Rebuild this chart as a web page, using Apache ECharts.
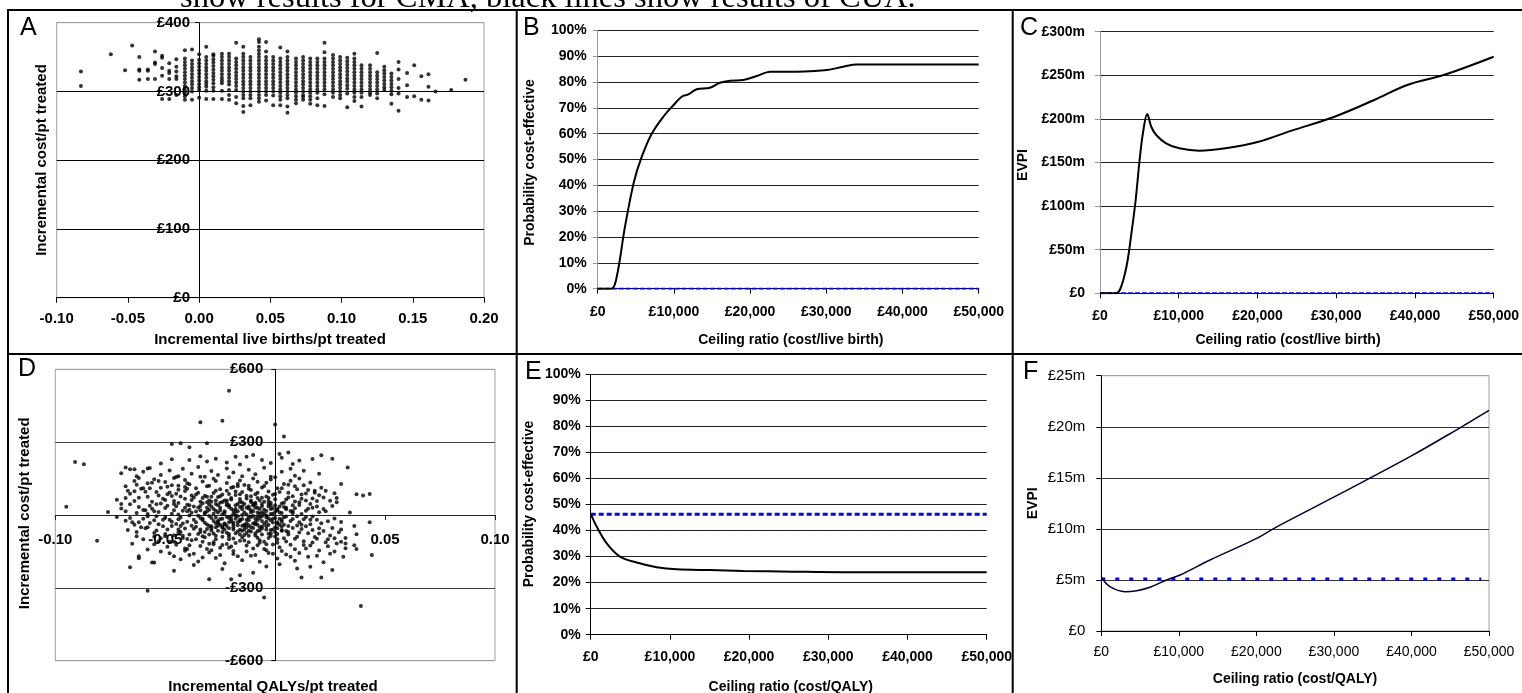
<!DOCTYPE html>
<html>
<head>
<meta charset="utf-8">
<script src="https://cdn.jsdelivr.net/npm/echarts@6/dist/echarts.min.js"></script>
<style>
html, body { margin: 0; padding: 0; background: #fff; }
#chart { width: 1522px; height: 693px; }
</style>
</head>
<body>
<div id="chart"></div>
<script>
// ---- data ----
// A: cost-effectiveness plane (live births), columns of points at discrete x
const aColX = [-0.083,-0.062,-0.052,-0.047,-0.042,-0.036,-0.031,-0.026,-0.021,-0.016,-0.010,-0.005,0.000,
  0.005,0.010,0.016,0.021,0.026,0.031,0.036,0.042,0.047,0.052,0.057,0.062,0.068,0.073,0.078,0.083,0.088,
  0.094,0.099,0.104,0.109,0.114,0.120,0.125,0.130,0.135,0.140,0.146,0.151,0.156,0.161,0.166,0.177,0.187];
const aColCost = [
  [329,308],[354],[331],[367],[350,332,330,317],[332,330,318],[358,342,340,318],[352,349,334,323,289],
  [341,330,327,318,289],[347,336,329,322,318,295],
  [360,348,343,338,333,328,323,318,313,308,303,298,293,288],
  [361,345,340,335,330,325,320,315,310,305,300,288],
  [354,346,341,336,331,326,321,316,311,306,302,291],
  [365,350,345,340,335,330,325,320,315,311,307,301,289],
  [354,352,347,342,337,332,327,322,317,312,306,301,289],
  [355,350,345,340,335,330,325,320,316,312,301,289],
  [355,350,345,340,335,330,325,320,315,310,302,295,288],
  [371,348,343,338,333,328,323,318,313,308,302,292,283],
  [365,355,350,345,340,335,330,325,320,315,310,305,300,295,290,279,270],
  [350,345,340,335,330,325,320,315,310,305,300,295,290,280],
  [376,372,365,360,355,350,345,340,335,330,325,320,315,310,305,300,295,290,285],
  [372,358,350,345,340,335,330,325,320,315,310,305,300,295,287],
  [350,345,340,335,330,325,320,315,310,305,300,294,280],
  [364,348,343,338,333,328,323,318,313,308,303,298,293,288,280],
  [358,350,345,340,335,330,325,320,315,310,305,300,295,290,278,269],
  [348,343,338,333,328,323,318,313,308,303,298,293,288,283],
  [350,345,340,335,330,325,320,315,310,305,300,295,292,288],
  [348,343,338,333,328,323,318,313,308,303,298,293,288,282],
  [348,343,338,333,328,323,318,313,308,303,298,290,280],
  [371,357,348,343,338,333,328,323,318,313,308,303,296,279],
  [353,348,343,338,333,328,323,318,313,308,303,298,292],
  [350,345,340,335,330,325,320,315,310,305,300,295,290],
  [349,344,339,334,329,324,319,314,309,304,297,277],
  [355,348,343,338,333,328,323,318,313,308,303,298,292,286],
  [338,333,328,323,318,313,308,303,298,292,278],
  [338,333,328,323,318,313,308,303,298,295],
  [356,328,323,318,313,308,303,297,290],
  [336,331,326,321,316,311,306,302],
  [326,321,316,311,306,301,296,282],
  [343,332,318,305,297,272],
  [327,309,292],[338,293],[322,288],[325,307,287],[300],[302],[317]
];

// D: cost-effectiveness plane (QALYs), [QALY x1000, cost £]
const dPoints = [
  [-70,172],[-66,188],[-63,160],[-60,178],[-57,194],[-52,165],[-48,183],[-45,156],[-42,190],[-38,170],[-35,198],[-32,158],[-29,181],[-26,165],[-22,192],[-19,175],[-15,160],[-12,186],[-9,168],[-5,195],[-2,158],[3,178],[7,190],[9,162],[13,182],[20,170],[33,196],
  [-68,118],[-64,140],[-61,108],[-58,131],[-55,147],[-52,112],[-50,136],[-47,122],[-44,104],[-41,144],[-39,127],[-36,110],[-33,138],[-30,120],[-28,149],[-25,106],[-22,132],[-19,115],[-16,142],[-14,124],[-11,103],[-8,137],[-5,119],[-2,146],[1,110],[4,128],[7,141],[10,106],[13,123],[16,134],[21,112],[30,128],
  [-72,63],[-66,88],[-62,71],[-59,96],[-56,55],[-53,80],[-51,67],[-48,93],[-46,58],[-43,76],[-41,99],[-38,62],[-36,84],[-33,70],[-31,52],[-28,91],[-26,74],[-23,60],[-21,86],[-18,97],[-16,66],[-13,79],[-11,54],[-8,92],[-6,71],[-3,58],[-1,83],[2,95],[5,64],[8,77],[11,53],[14,89],[17,68],[20,81],[25,59],[37,85],[40,80],[43,86],
  [-95,34],[-76,12],[-70,27],[-66,44],[-63,8],[-60,21],[-57,38],[-55,15],[-52,47],[-50,29],[-47,5],[-45,36],[-42,18],[-40,42],[-38,9],[-35,31],[-33,48],[-31,14],[-28,25],[-26,40],[-24,3],[-21,33],[-19,19],[-17,45],[-14,10],[-12,27],[-10,39],[-7,6],[-5,22],[-3,46],[0,13],[2,35],[5,24],[8,7],[11,41],[14,18],[17,30],[20,11],[26,37],
  [-72,-8],[-68,-24],[-64,-40],[-60,-15],[-57,-33],[-54,-5],[-51,-46],[-48,-20],[-45,-37],[-43,-10],[-40,-28],[-38,-44],[-35,-3],[-33,-22],[-31,-39],[-29,-12],[-26,-30],[-24,-48],[-22,-7],[-20,-26],[-17,-42],[-15,-16],[-13,-35],[-10,-4],[-8,-21],[-6,-47],[-3,-13],[-1,-31],[2,-40],[4,-9],[7,-25],[10,-43],[13,-18],[17,-6],[21,-34],[27,-14],[30,-29],[43,-30],
  [-81,-106],[-67,-62],[-63,-88],[-59,-55],[-55,-74],[-52,-96],[-49,-60],[-46,-83],[-43,-70],[-40,-99],[-37,-57],[-35,-78],[-32,-92],[-29,-64],[-27,-85],[-24,-52],[-22,-73],[-19,-97],[-16,-61],[-14,-82],[-11,-68],[-8,-94],[-6,-56],[-3,-77],[0,-89],[3,-63],[6,-80],[9,-98],[12,-58],[15,-75],[18,-91],[22,-66],[25,-84],[29,-71],[32,-95],[37,-79],
  [-65,-118],[-58,-142],[-53,-108],[-49,-131],[-45,-122],[-41,-147],[-38,-104],[-34,-128],[-31,-140],[-28,-112],[-25,-135],[-22,-119],[-19,-148],[-16,-106],[-13,-126],[-10,-138],[-7,-114],[-4,-145],[-1,-121],[2,-133],[5,-109],[9,-141],[13,-124],[17,-113],[20,-146],[24,-129],[28,-117],[32,-137],[36,-125],
  [-62,-170],[-55,-196],[-48,-158],[-43,-182],[-39,-165],[-35,-192],[-30,-154],[-27,-177],[-23,-199],[-19,-161],[-15,-186],[-11,-168],[-7,-193],[-3,-157],[1,-179],[5,-163],[9,-188],[15,-172],[22,-195],[25,-160],[44,-165],
  [-66,-215],[-46,-230],[-37,-206],[-30,-265],[-24,-222],[-16,-248],[-10,-238],[-4,-212],[2,-203],[10,-220],[16,-213],[21,-257],[26,-227],[12,-257],[-20,-265],
  [-34,-60],[-30,-45],[-27,-10],[-25,20],[-23,-35],[-21,-55],[-19,5],[-18,-75],[-16,-25],[-15,35],[-13,-50],[-12,-85],[-10,15],[-9,-38],[-7,-65],[-6,45],[-4,-28],[-3,-95],[-1,5],[1,-55],[3,-20],[-29,55],[-32,10],[-26,-65],[-20,70],[-17,-5],[-11,60],[-5,-110],[-2,25],[0,-70],[-36,-30],[-40,15],[-44,-60],[-24,-90],[-14,-105],[-8,30],[6,-45],[8,15],[-28,-120],[-20,-130],[-12,120],[-22,100],[-30,-80],[-18,40],[-9,-15],[-6,-5],[4,50],[-37,35],[-42,-85],[-33,-110],[-16,85],[-12,-8],[-27,45],[-21,-100],[-3,70],[1,-100],[-8,-125],[-14,-60],[-25,-40],[-31,75],
  [-52,212],[-47,230],[-39,226],[-34,242],[-31,220],[-27,232],[-22,216],[-18,240],[-16,208],[-13,240],[-10,247],[-6,226],[-2,214],[3,236],[8,210],[11,224],[17,231],[21,246],[26,232],
  [-68,196],[-64,188],[-58,192],[-47,292],[-43,295],[-31,295],[-39,279],[6,257],[2,251],[-21,512],[-34,382],[-24,388],[0,373],[4,323],
  [-91,218],[-87,209],[-58,-312],[-5,-340],[39,-375],[-62,-178],[-56,-196],[37,-140],[32,-117],
  [-46,152],[-40,131],[-34,158],[-27,140],[-21,155],[-17,128],[-10,150],[-4,133],[0,155],[6,125],[11,150],[-56,133],[-62,152],
  [-60,110],[-54,95],[-49,116],[-45,88],[-40,108],[-35,92],[-31,118],[-27,100],[-24,84],[-20,112],[-15,95],[-12,108],[-9,85],[-6,113],[-3,97],[0,86],[3,110],[6,92],[9,118],[12,84],[15,103],[18,92],[23,100],[27,90],[-64,98],[-44,120],[-29,75],[-17,118],
  [-64,58],[-58,75],[-54,44],[-50,62],[-47,78],[-44,49],[-41,67],[-39,40],[-37,72],[-34,55],[-32,79],[-30,43],[-27,60],[-25,77],[-22,48],[-20,64],[-18,82],[-15,51],[-13,68],[-11,77],[-9,44],[-7,60],[-4,76],[-2,50],[0,65],[3,47],[6,72],[9,56],[12,67],[16,45],[19,58],[22,72],[28,52],[-68,70],[-24,54],[-8,70],
  [-68,15],[-62,33],[-58,4],[-56,26],[-53,12],[-49,38],[-46,20],[-44,2],[-41,30],[-39,22],[-36,14],[-34,37],[-32,4],[-29,35],[-27,17],[-25,30],[-23,8],[-22,40],[-20,26],[-18,12],[-16,33],[-13,2],[-11,20],[-9,30],[-8,10],[-6,36],[-4,16],[-2,4],[-1,28],[1,20],[3,8],[4,33],[7,16],[9,28],[12,4],[15,26],[19,35],[23,15],[-15,24],[-30,22],
  [-66,-12],[-62,-30],[-58,-5],[-55,-22],[-53,-38],[-50,-10],[-47,-28],[-44,-18],[-42,-35],[-39,-2],[-37,-20],[-34,-12],[-32,-32],[-30,-4],[-28,-25],[-25,-16],[-23,-38],[-21,-12],[-19,-32],[-18,-2],[-16,-20],[-14,-40],[-12,-22],[-11,-8],[-9,-30],[-7,-12],[-5,-36],[-4,-2],[-2,-22],[0,-12],[1,-36],[3,-28],[5,-6],[8,-16],[11,-30],[14,-8],[16,-38],[19,-20],[24,-26],[-27,-34],[-20,-18],
  [-63,-70],[-58,-50],[-54,-64],[-50,-78],[-47,-45],[-44,-72],[-41,-56],[-39,-80],[-36,-48],[-34,-70],[-31,-58],[-28,-76],[-26,-44],[-23,-60],[-21,-78],[-19,-50],[-17,-68],[-15,-44],[-13,-74],[-10,-54],[-8,-66],[-6,-80],[-4,-46],[-2,-62],[1,-78],[3,-48],[5,-66],[8,-54],[11,-72],[14,-46],[17,-62],[20,-76],[26,-54],[-29,-46],[-12,-42],
  [-60,-100],[-55,-120],[-50,-88],[-46,-110],[-42,-95],[-39,-125],[-36,-100],[-33,-88],[-30,-118],[-27,-100],[-24,-124],[-21,-88],[-18,-115],[-15,-92],[-12,-112],[-9,-84],[-7,-104],[-4,-120],[-2,-86],[1,-114],[4,-96],[7,-122],[10,-90],[13,-108],[16,-126],[19,-98],[23,-112],[27,-96],[30,-110],
  [-52,-150],[-46,-170],[-41,-138],[-37,-160],[-33,-175],[-29,-145],[-25,-165],[-21,-135],[-17,-170],[-13,-150],[-9,-165],[-5,-140],[-1,-160],[3,-148],[7,-172],[11,-156],[14,-138],[19,-168],[27,-150],[31,-172],
  [-33,-15],[-31,30],[-29,-55],[-28,5],[-26,-25],[-25,50],[-24,-70],[-23,15],[-22,-45],[-21,40],[-20,-5],[-19,-60],[-18,25],[-17,-30],[-16,55],[-16,-80],[-15,0],[-14,-45],[-13,30],[-12,-65],[-11,10],[-10,-35],[-10,45],[-9,-75],[-8,-5],[-7,25],[-7,-50],[-6,-25],[-5,55],[-5,5],[-4,-60],[-3,-40],[-3,35],[-2,-75],[-1,-15],[0,40],[0,-50],[1,-30],[2,10],[3,-65],[4,-40],[5,30],
  [-34,20],[-32,-70],[-30,60],[-27,-50],[-26,10],[-24,-15],[-22,60],[-21,-30],[-19,-40],[-18,-15],[-17,15],[-15,-65],[-14,45],[-13,-20],[-12,35],[-11,-50],[-9,50],[-8,-40],[-6,10],[-4,-10],[-2,40],[-1,-60],[1,25],[2,-15],
  [-70,45],[-67,100],[-65,-30],[-63,125],[-61,-50],[-59,20],[-57,110],[-55,-90],[-53,140],[-51,-20],[-49,85],[-48,-110],[-46,45],[-44,160],[-43,-45],[-41,115],[-40,-140],[-38,80],
  [6,-70],[8,40],[10,-5],[12,-40],[14,60],[16,-20],[18,100],[20,-55],[22,25],[24,-100],[28,70],[30,-60],[34,10],[36,-45]
];

// B: probability cost-effective vs ceiling ratio (cost/live birth)
const bCeiling = [0,1800,2500,3580,4760,5770,7090,8620,9930,11020,11900,12990,14740,16050,17360,19110,20870,22610,25670,27860,30050,32230,33990,50000];
const bProb = [0,0,4.6,24,41.4,51,60,66.6,71,74.3,75.2,77.2,77.8,79.7,80.5,80.8,82.3,84,84,84.2,84.6,85.9,86.8,86.8];
const bProbCMA = 0;

// C: EVPI (£m) vs ceiling ratio (cost/live birth)
const cCeiling = [0,1890,2520,3360,3990,4530,5030,5450,6000,6510,7140,8390,10070,12590,15950,20140,24330,29790,34830,39020,43640,50000];
const cEvpi = [0,0,3.8,30.5,68.8,107,152.9,183.5,205.6,191,181.5,172,166.3,163.5,166.3,173.8,186.5,202.5,221.7,238.9,250.3,271.3];
const cEvpiCMA = 0;

// E: probability cost-effective vs ceiling ratio (cost/QALY)
const eCeiling = [0,760,2020,3700,5810,8330,10860,15060,19270,25580,31900,50000];
const eProb = [46.4,41.5,35.1,30,27.7,25.9,25.1,24.8,24.5,24.2,24,24];
const eProbCMA = 46.3;

// F: EVPI (£m) vs ceiling ratio (cost/QALY)
const fCeiling = [0,1120,3060,4570,6280,8430,10150,14020,20040,22620,31210,39810,46260,50000];
const fEvpi = [5.26,4.34,3.85,3.95,4.28,5.0,5.48,6.95,9.07,10.2,13.6,17.07,19.9,21.6];
const fEvpiCMA = 5.1;

// ---- helpers ----
const FONT = 'Liberation Sans, Arial, sans-serif';
function money(v) {
  const s = String(Math.abs(Math.round(v))).replace(/\B(?=(\d{3})+(?!\d))/g, ',');
  return (v < 0 ? '-' : '') + '£' + s;
}
function pairs(xs, ys) { return xs.map((x, i) => [x, ys[i]]); }

const aData = [];
aColX.forEach((x, i) => aColCost[i].forEach(c => aData.push([x, c])));
const dData = dPoints.map(p => [p[0] / 1000, p[1]]);

function lbl(size, bold, margin, fmt) {
  return { fontFamily: FONT, fontSize: size, fontWeight: bold ? 'bold' : 'normal', color: '#000', margin: margin, formatter: fmt };
}
function ceilingAxis(gi, bold, margin) {
  return {
    type: 'value', gridIndex: gi, min: 0, max: 50000, interval: 10000,
    axisLine: { onZero: false, lineStyle: { color: '#000', width: 1 } },
    axisTick: { length: 5, lineStyle: { color: '#000' } },
    axisLabel: lbl(14, bold, margin, money),
    splitLine: { show: false }
  };
}
function probAxis(gi, lineColor, margin) {
  return {
    type: 'value', gridIndex: gi, min: 0, max: 100, interval: 10,
    axisLine: { show: true, onZero: false, lineStyle: { color: lineColor } },
    axisTick: { show: true, length: 5, lineStyle: { color: lineColor } },
    axisLabel: lbl(14, true, margin, v => v + '%'),
    splitLine: { lineStyle: { color: '#222', width: 1 } }
  };
}
function text(x, y, str, size, weight, rot, family) {
  return {
    type: 'text', x: x, y: y, rotation: rot || 0, silent: true,
    style: { text: str, fontFamily: family || FONT, fontSize: size, fontWeight: weight || 'normal', fill: '#000',
      align: 'center', verticalAlign: 'middle', textAlign: 'center', textVerticalAlign: 'middle' }
  };
}
function letter(x, y, str) {
  return {
    type: 'text', x: x, y: y, silent: true,
    style: { text: str, fontFamily: FONT, fontSize: 25, fill: '#000', align: 'left', verticalAlign: 'middle', textAlign: 'left', textVerticalAlign: 'middle' }
  };
}
function rule(x1, y1, x2, y2) {
  return { type: 'line', silent: true, shape: { x1, y1, x2, y2 }, style: { stroke: '#000', lineWidth: 2 } };
}

const chart = echarts.init(document.getElementById('chart'), null, { renderer: 'canvas' });

const option = {
  animation: false,
  backgroundColor: '#fff',
  grid: [
    { left: 56.7, top: 22.7, width: 427.3, height: 275, show: true, borderColor: '#a0a0a0', borderWidth: 1 },
    { left: 597.7, top: 30.3, width: 381, height: 258.4 },
    { left: 1100, top: 31.7, width: 397.3, height: 261.6 },
    { left: 55.3, top: 369.3, width: 439.7, height: 291.4, show: true, borderColor: '#a0a0a0', borderWidth: 1 },
    { left: 590.7, top: 374.3, width: 396, height: 260.4 },
    { left: 1101.3, top: 375.7, width: 387.7, height: 255.3, show: true, borderColor: '#a0a0a0', borderWidth: 1 }
  ],
  xAxis: [
    {
      type: 'value', gridIndex: 0, min: -0.1, max: 0.2, interval: 0.05,
      axisLine: { onZero: false, lineStyle: { color: '#000' } },
      axisTick: { length: 5, lineStyle: { color: '#000' } },
      axisLabel: lbl(15, true, 14, v => (Math.abs(v) < 1e-9 ? 0 : v).toFixed(2)),
      splitLine: { show: false }
    },
    ceilingAxis(1, true, 16),
    ceilingAxis(2, true, 16),
    {
      // axis drawn on the zero cost line
      type: 'value', gridIndex: 3, min: -0.1, max: 0.1, interval: 0.05, offset: -145.7,
      axisLine: { onZero: false, lineStyle: { color: '#222' } },
      axisTick: { length: 5, lineStyle: { color: '#222' } },
      axisLabel: lbl(15, true, 17, v => Math.abs(v) < 1e-9 ? '' : v.toFixed(2)),
      splitLine: { show: false }
    },
    ceilingAxis(4, true, 15),
    ceilingAxis(5, false, 14)
  ],
  yAxis: [
    {
      // axis drawn on the zero live-birth line
      type: 'value', gridIndex: 0, min: 0, max: 400, interval: 100, offset: -142.3,
      axisLine: { onZero: false, lineStyle: { color: '#000' } },
      axisTick: { length: 4, lineStyle: { color: '#000' } },
      axisLabel: lbl(15, true, 9, v => '£' + v),
      splitLine: { lineStyle: { color: ['#000', '#000', '#000', '#000', '#a0a0a0'] } }
    },
    probAxis(1, '#999', 11),
    {
      type: 'value', gridIndex: 2, min: 0, max: 300, interval: 50,
      axisLine: { show: true, onZero: false, lineStyle: { color: '#999' } },
      axisTick: { show: true, length: 5, lineStyle: { color: '#999' } },
      axisLabel: lbl(14, true, 15, v => v === 0 ? '£0' : '£' + v + 'm'),
      splitLine: { lineStyle: { color: '#222' } }
    },
    {
      // axis drawn on the zero QALY line
      type: 'value', gridIndex: 3, min: -600, max: 600, interval: 300, offset: -220,
      axisLine: { onZero: false, lineStyle: { color: '#000' } },
      axisTick: { length: 4, lineStyle: { color: '#000' } },
      axisLabel: lbl(15, true, 12, v => v === 0 ? '' : money(v)),
      splitLine: { lineStyle: { color: ['#a0a0a0', '#444', '#222', '#444', '#a0a0a0'] } }
    },
    probAxis(4, '#000', 10),
    {
      type: 'value', gridIndex: 5, min: 0, max: 25, interval: 5,
      axisLine: { show: true, onZero: false, lineStyle: { color: '#000' } },
      axisTick: { show: true, length: 5, lineStyle: { color: '#000' } },
      axisLabel: lbl(15, false, 16, v => v === 0 ? '£0' : '£' + v + 'm'),
      splitLine: { lineStyle: { color: ['#000', '#333', '#333', '#333', '#333', '#a0a0a0'] } }
    }
  ],
  series: [
    { type: 'scatter', xAxisIndex: 0, yAxisIndex: 0, data: aData, symbol: 'circle', symbolSize: 4, itemStyle: { color: '#000' } },
    { type: 'line', xAxisIndex: 1, yAxisIndex: 1, data: [[0, bProbCMA], [50000, bProbCMA]], showSymbol: false,
      lineStyle: { color: '#0000ff', width: 2, type: [5, 2] } },
    { type: 'line', xAxisIndex: 1, yAxisIndex: 1, data: pairs(bCeiling, bProb), showSymbol: false, smooth: 0.35,
      lineStyle: { color: '#000', width: 2 } },
    { type: 'line', xAxisIndex: 2, yAxisIndex: 2, data: [[0, cEvpiCMA], [50000, cEvpiCMA]], showSymbol: false,
      lineStyle: { color: '#0000ff', width: 2, type: [5, 2] } },
    { type: 'line', xAxisIndex: 2, yAxisIndex: 2, data: pairs(cCeiling, cEvpi), showSymbol: false, smooth: 0.35,
      lineStyle: { color: '#000', width: 2 } },
    { type: 'scatter', xAxisIndex: 3, yAxisIndex: 3, data: dData, symbol: 'circle', symbolSize: 4, itemStyle: { color: '#000' } },
    { type: 'line', xAxisIndex: 4, yAxisIndex: 4, data: [[0, eProbCMA], [50000, eProbCMA]], showSymbol: false,
      lineStyle: { color: '#0000ff', width: 3, type: [5, 3] } },
    { type: 'line', xAxisIndex: 4, yAxisIndex: 4, data: pairs(eCeiling, eProb), showSymbol: false, smooth: 0.35,
      lineStyle: { color: '#000', width: 2 } },
    { type: 'line', xAxisIndex: 5, yAxisIndex: 5, data: [[0, fEvpiCMA], [49000, fEvpiCMA]], showSymbol: false,
      lineStyle: { color: '#0000ff', width: 3, type: [4, 10] } },
    { type: 'line', xAxisIndex: 5, yAxisIndex: 5, data: pairs(fCeiling, fEvpi), showSymbol: false, smooth: 0.35,
      lineStyle: { color: '#000033', width: 1.5 } }
  ],
  graphic: [
    // caption cut off at the top of the page
    { type: 'text', x: 180, y: -2, silent: true,
      style: { text: 'show results for CMA, black lines show results of CUA.', fontFamily: 'Liberation Serif, Times New Roman, serif',
        fontSize: 32.5, fill: '#000', align: 'left', verticalAlign: 'middle', textAlign: 'left', textVerticalAlign: 'middle' } },
    // panel frame
    rule(7, 10, 1522, 10),
    rule(7, 354, 1522, 354),
    rule(8, 10, 8, 693),
    rule(516.7, 10, 516.7, 693),
    rule(1012.7, 10, 1012.7, 693),
    // panel letters
    letter(20, 28.5, 'A'), letter(523, 28.5, 'B'), letter(1020, 28.5, 'C'),
    letter(18, 368.7, 'D'), letter(525, 372, 'E'), letter(1023, 372, 'F'),
    // axis titles
    text(270, 340, 'Incremental live births/pt treated', 15, 'bold'),
    text(41.7, 160, 'Incremental cost/pt treated', 15, 'bold', Math.PI / 2),
    text(790.8, 340.5, 'Ceiling ratio (cost/live birth)', 14, 'bold'),
    text(530, 162.5, 'Probability cost-effective', 14, 'bold', Math.PI / 2),
    text(1288, 340.5, 'Ceiling ratio (cost/live birth)', 14, 'bold'),
    text(1023.3, 165, 'EVPI', 14, 'bold', Math.PI / 2),
    text(273, 686.7, 'Incremental QALYs/pt treated', 15, 'bold'),
    text(25, 513.3, 'Incremental cost/pt treated', 15, 'bold', Math.PI / 2),
    text(790.8, 686.7, 'Ceiling ratio (cost/QALY)', 14, 'bold'),
    text(529, 504, 'Probability cost-effective', 14, 'bold', Math.PI / 2),
    text(1295, 679, 'Ceiling ratio (cost/QALY)', 14, 'bold'),
    text(1033.3, 503.3, 'EVPI', 14, 'bold', Math.PI / 2)
  ]
};

chart.setOption(option);
</script>
</body>
</html>
